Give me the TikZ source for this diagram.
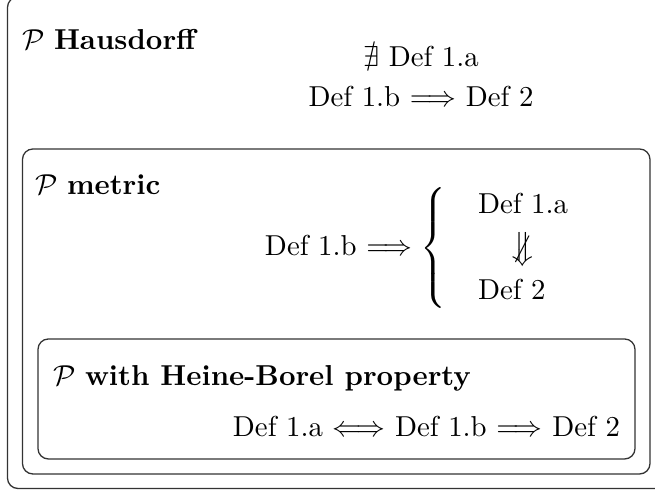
\documentclass[tikz,border=0pt]{standalone}
\usepackage{amsmath,amssymb}
\tikzset{
  frame/.style={draw=black!80, line width=0.45pt, rounded corners=3.6pt},
  txt/.style={inner sep=0pt, outer sep=0pt},
}
\begin{document}
\begin{tikzpicture}[x=0.347pt,y=-0.347pt]
\useasboundingbox (0,0) rectangle (655,490);
\clip (0,0) rectangle (655,490);
% frames
\draw[frame] (7.5,-3) rectangle (675,488.5);
\draw[frame] (22.5,149) rectangle (650,474);
\draw[frame] (38,339) rectangle (635,459);
% Hausdorff
\node[txt, anchor=base west] (hT) at (22,50) {$\mathcal{P}$ \textbf{Hausdorff}};
\node[txt, anchor=base] (h1) at (421,67) {$\nexists$ Def 1.a};
\node[txt, anchor=base] (h2) at (421,107) {Def 1.b $\Longrightarrow$ Def 2};
% metric
\node[txt, anchor=west] (m1) at (265,248) {Def 1.b $\Longrightarrow \left\{\renewcommand{\arraystretch}{1.25}\begin{array}{@{\hspace{11pt}}l}
  \text{Def 1.a}\\
  \multicolumn{1}{@{\hspace{11pt}}c}{\not\mathrel{\big\Downarrow}}\\
  \text{Def 2}
\end{array}\right.$};
\node[txt, anchor=base west] (mT) at (35,195) {$\mathcal{P}$ \textbf{metric}};
% Heine-Borel
\node[txt, anchor=base west] (bT) at (53,386) {$\mathcal{P}$ \textbf{with Heine-Borel property}};
\node[txt, anchor=base east] (b1) at (620,437) {Def 1.a $\Longleftrightarrow$ Def 1.b $\Longrightarrow$ Def 2};
\end{tikzpicture}
\end{document}
